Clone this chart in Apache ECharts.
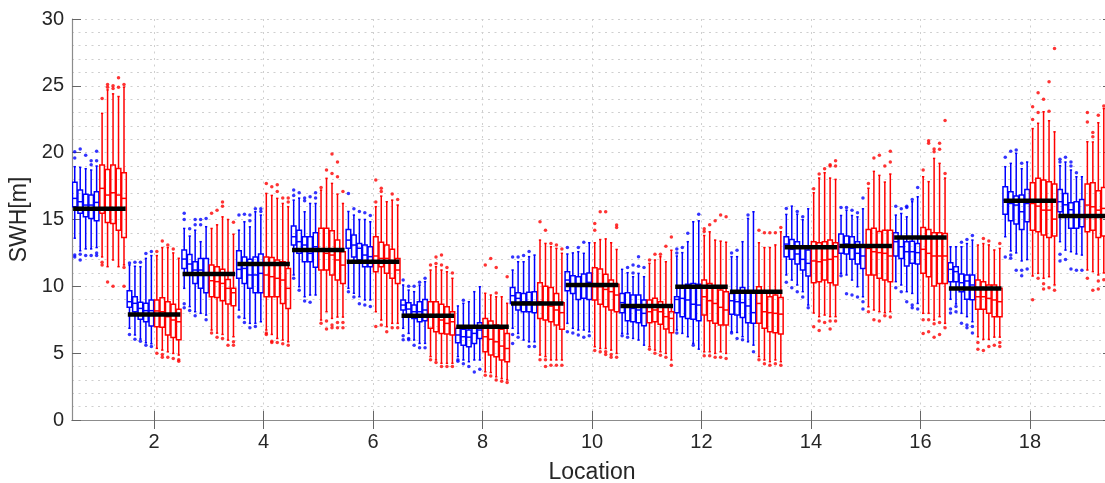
<!DOCTYPE html>
<html><head><meta charset="utf-8">
<script src="https://cdn.jsdelivr.net/npm/echarts@6/dist/echarts.min.js"></script>
<style>html,body{margin:0;padding:0;background:#fff}#c{width:1105px;height:483px}</style>
</head><body><div id="c"></div>
<script>
const locations = [1,2,3,4,5,6,7,8,9,10,11,12,13,14,15,16,17,18,19];
const xTickLabels = [2,4,6,8,10,12,14,16,18];
const yTickLabels = [0,5,10,15,20,25,30];
const observed = [15.8,7.9,10.92,11.67,12.71,11.84,7.8,6.98,8.72,10.1,8.53,9.97,9.6,12.92,13.01,13.66,9.83,16.4,15.26];

// [low whisker, q1, median, q3, high whisker], 5 boxes per location
const blueBoxes = [
 [[13.6,15.96,16.58,17.78,18.95],[12.66,15.46,16.33,17.2,18.9],[12.8,15.2,16.08,16.88,18.8],[12.8,15.08,16.08,16.83,18.7],[12.9,14.9,16.28,17.08,19.0]],
 [[6.86,8.43,8.85,9.67,11.6],[6.36,8.1,8.73,9.22,11.5],[6.05,7.53,8.35,8.8,11.47],[5.78,7.35,8.18,8.73,12.09],[5.7,7.03,8.18,8.98,12.3]],
 [[9.85,11.34,12.04,12.71,14.33],[8.48,10.97,11.67,12.39,13.76],[8.1,10.22,11.22,11.84,14.2],[7.98,9.85,11.22,12.09,13.34],[7.85,9.52,10.97,12.09,14.46]],
 [[8.23,10.6,11.27,12.66,14.2],[7.6,10.22,11.34,12.2,14.83],[7.23,9.85,10.85,12.02,14.45],[7.23,9.52,10.85,12.2,15.58],[7.35,9.52,10.97,12.42,15.33]],
 [[10.85,13.09,13.71,14.51,16.45],[9.97,12.47,13.34,14.2,16.6],[9.22,11.84,13.09,13.71,15.58],[9.35,11.84,12.47,13.71,16.2],[9.35,11.42,12.96,14.01,16.2]],
 [[9.85,12.85,13.46,14.26,15.6],[9.48,12.2,13.09,13.84,15.33],[9.22,11.97,12.85,13.21,15.0],[8.98,11.47,12.34,13.09,15.0],[8.98,11.47,12.22,12.96,14.83]],
 [[6.86,8.23,8.6,8.98,10.1],[6.48,7.9,8.3,8.77,9.72],[5.98,7.6,8.1,8.6,9.6],[5.73,7.35,8.1,8.85,10.1],[5.73,7.42,8.23,9.02,10.35]],
 [[4.74,5.78,6.36,6.86,8.53],[4.49,5.6,6.23,6.78,8.73],[4.36,5.48,6.2,6.73,8.85],[4.49,5.73,6.48,6.93,9.6],[4.49,6.1,6.73,7.28,9.97]],
 [[6.86,8.72,9.3,9.92,11.22],[6.48,8.23,9.1,9.52,11.84],[5.98,8.1,8.85,9.47,11.84],[5.85,8.1,8.85,9.55,12.22],[5.85,8.03,8.78,9.6,12.34]],
 [[7.23,9.67,10.47,11.09,12.42],[6.86,9.47,10.15,10.8,12.5],[6.73,9.02,10.0,10.72,12.59],[6.73,9.1,10.1,10.92,12.47],[6.6,9.02,10.3,11.0,13.26]],
 [[6.48,8.03,8.78,9.47,11.27],[6.43,7.42,8.6,9.52,11.02],[6.1,7.35,8.35,9.35,10.72],[5.98,7.28,8.23,9.35,10.97],[5.6,7.05,7.98,8.98,10.72]],
 [[6.73,8.03,9.02,9.22,12.27],[6.48,7.73,9.1,9.97,12.52],[6.23,7.6,8.98,10.15,13.34],[5.73,7.54,8.66,10.22,14.83],[5.3,7.42,8.6,10.15,14.9]],
 [[6.6,7.92,8.92,9.47,12.22],[6.55,7.85,8.85,9.67,12.22],[6.23,7.66,8.78,9.92,13.34],[5.85,7.28,8.53,9.55,15.08],[5.6,7.23,8.03,9.52,15.58]],
 [[10.85,12.22,13.16,13.71,15.38],[10.47,12.02,12.77,13.51,16.0],[10.1,11.67,12.42,13.34,15.4],[9.6,11.22,12.02,12.84,14.98],[8.6,10.77,11.72,12.71,15.8]],
 [[10.97,12.47,12.96,13.91,15.3],[10.85,12.42,13.16,13.76,15.7],[10.47,12.02,12.84,13.71,15.3],[9.97,11.67,12.47,13.34,15.2],[9.22,11.34,12.27,12.96,15.8]],
 [[10.35,12.27,13.34,14.0,15.33],[10.1,12.09,12.96,13.71,15.45],[9.6,11.52,12.59,13.34,15.2],[9.47,11.72,12.59,13.38,16.33],[8.72,11.67,12.52,13.21,16.7]],
 [[9.03,10.35,11.27,11.77,12.96],[8.68,10.35,11.1,11.47,12.96],[7.98,9.6,10.27,10.92,12.96],[7.73,9.03,10.4,10.85,13.2],[7.35,9.0,10.1,10.85,13.46]],
 [[13.71,15.4,16.45,17.45,18.95],[12.65,14.9,16.2,17.08,19.2],[12.5,14.66,16.08,16.75,19.95],[11.9,14.26,15.58,16.83,18.8],[12.0,14.83,16.2,17.25,19.3]],
 [[13.34,15.58,16.33,17.25,19.03],[12.71,15.33,16.1,16.95,19.3],[12.59,14.34,15.73,16.25,18.7],[12.42,14.34,15.33,16.33,18.2],[12.34,14.46,15.2,16.5,18.2]]
];
const redBoxes = [
 [[12.2,15.46,17.33,19.07,22.94],[11.47,14.78,16.83,18.74,24.7],[11.97,14.7,17.0,19.07,24.4],[11.47,14.2,16.83,18.82,24.2],[11.6,13.66,16.58,18.5,24.9]],
 [[5.36,6.98,8.16,8.98,12.3],[5.23,6.93,8.1,9.15,12.9],[5.1,6.36,7.73,8.85,12.9],[4.98,6.18,7.48,8.66,12.5],[4.86,6.0,7.35,8.28,12.1]],
 [[6.73,9.22,10.42,11.59,14.33],[6.5,9.17,10.35,11.47,14.6],[6.4,8.92,10.22,11.27,15.2],[5.98,8.68,9.85,10.52,15.0],[6.23,8.55,9.52,9.85,13.9]],
 [[6.73,9.22,10.85,12.2,16.95],[6.4,9.22,10.72,12.15,16.8],[6.1,9.22,10.6,11.97,16.58],[5.98,8.72,10.47,11.84,16.2],[5.85,8.35,9.85,11.34,15.96]],
 [[7.48,11.22,12.71,14.34,17.2],[8.1,11.22,12.47,14.34,18.08],[7.6,10.85,12.34,14.16,17.7],[7.7,10.47,11.97,13.46,16.9],[7.7,10.22,11.59,12.59,16.2]],
 [[8.1,11.09,12.27,13.71,15.96],[7.48,11.47,12.09,13.29,16.75],[6.98,10.97,12.09,13.09,16.33],[7.23,10.6,11.84,12.77,16.45],[7.23,10.22,11.22,12.09,16.08]],
 [[4.74,6.86,7.85,8.85,11.22],[4.49,6.6,7.73,8.85,11.47],[4.24,6.48,7.48,8.66,11.22],[4.24,6.43,7.23,8.48,11.09],[4.24,6.36,7.35,8.1,10.6]],
 [[3.6,5.1,6.23,7.6,9.48],[3.55,4.86,6.04,7.4,9.35],[3.23,4.74,5.85,7.1,9.22],[3.1,4.49,5.53,6.78,9.22],[3.0,4.36,5.35,6.48,8.73]],
 [[4.86,7.6,8.85,10.27,13.46],[4.74,7.48,8.72,10.0,13.21],[4.49,7.35,8.52,9.92,12.96],[4.49,7.1,8.23,9.47,12.84],[4.49,6.78,8.03,8.78,12.47]],
 [[5.48,8.98,9.97,11.39,13.26],[5.35,8.66,9.97,11.3,13.5],[5.35,8.48,9.77,10.9,13.55],[5.23,8.23,9.6,10.47,13.26],[4.98,8.1,9.35,10.15,12.76]],
 [[5.48,7.28,8.1,8.98,11.72],[5.23,7.35,8.23,9.1,11.97],[5.1,7.17,8.1,8.85,12.22],[4.98,6.8,7.73,8.48,11.84],[4.49,6.52,7.6,8.1,12.7]],
 [[5.1,7.85,9.22,10.47,13.8],[5.1,7.42,8.92,10.22,14.08],[4.98,7.23,8.72,9.97,13.46],[5.1,7.1,8.43,9.72,13.38],[4.98,7.1,8.23,9.6,13.3]],
 [[4.74,7.23,8.72,9.97,13.26],[4.49,6.86,8.1,9.67,12.9],[4.36,6.6,8.03,9.22,12.9],[4.49,6.52,7.98,9.35,13.1],[4.36,6.43,7.92,9.17,14.08]],
 [[8.0,10.27,11.9,13.34,17.0],[7.73,10.35,11.84,13.26,18.1],[7.85,10.47,11.97,13.34,18.5],[7.73,10.27,12.02,13.46,18.1],[7.73,10.1,12.22,13.26,18.0]],
 [[8.47,10.85,12.84,14.26,17.34],[8.23,10.85,12.59,14.34,18.6],[8.1,10.6,12.52,14.1,18.3],[8.03,10.47,12.47,14.2,17.8],[8.1,10.35,12.27,14.2,18.4]],
 [[7.98,10.97,12.77,14.41,18.2],[7.98,10.72,12.47,14.26,17.83],[7.48,10.02,12.27,14.0,19.57],[7.73,10.22,12.27,14.0,19.2],[7.23,10.22,12.27,13.96,18.1]],
 [[6.23,8.28,9.22,10.47,13.09],[6.03,8.28,9.22,10.35,13.2],[6.03,7.98,9.1,10.1,13.1],[6.2,7.73,8.98,10.1,12.72],[6.2,7.73,8.85,9.85,12.84]],
 [[10.77,14.2,16.2,17.75,21.8],[10.97,14.08,16.0,18.08,22.2],[10.6,13.84,15.7,17.95,23.06],[10.72,13.66,15.7,17.82,22.39],[10.1,13.76,15.03,17.65,21.56]],
 [[11.22,14.08,16.08,17.65,20.82],[11.1,14.2,15.95,17.75,20.8],[10.85,13.66,15.7,17.15,22.24],[11.0,13.76,15.83,17.4,23.3],[10.5,13.5,15.6,17.4,22.5]]
];
const blueOutliers = [
 [[20.07,19.6,12.35,12.2],[20.27,11.97,12.4],[19.8,12.3],[19.4,19.1,12.3],[20.1,19.4,12.3,12.5]],
 [[11.75,6.4],[11.8,6.05],[11.8,5.9],[12.45,5.6],[12.6,5.5]],
 [[15.46,15.0,8.7,8.4],[14.3,8.2],[15.0,14.6,7.8],[15.0,14.6],[15.08,7.5]],
 [[15.33,7.7],[15.4,7.3],[15.33,14.9,6.9],[15.8,7.0],[15.8,15.6]],
 [[17.2,16.8,10.6],[17.0,9.7],[16.6,16.4,8.9],[16.7,8.8],[17.0,16.6]],
 [[16.95,9.6],[15.8,9.2],[15.6,8.7],[15.5,8.6],[15.3,8.5]],
 [[10.47,6.3,6.0],[10.0,6.1,6.0],[10.0,5.6],[10.3,5.4],[10.6,5.4]],
 [[4.5,4.4],[8.95,4.2],[4.0],[3.6],[3.8]],
 [[12.2,6.4,5.73],[12.2,6.2],[12.3],[12.6,5.5],[5.5]],
 [[12.9,6.6],[6.5],[12.9,6.35],[13.3,6.2],[6.3]],
 [[6.3],[11.4,6.2],[11.6,11.0],[12.22,11.5],[11.4]],
 [[12.8,12.5,6.5],[12.9],[13.97],[5.6],[15.4]],
 [[12.5,6.5],[12.7,6.1],[6.0],[15.33],[5.1]],
 [[15.83,10.3],[9.9],[15.6,9.6],[15.2,9.2],[8.4]],
 [[15.9,10.8],[15.9,9.45],[15.7,9.35],[15.5,9.2],[16.6,8.85,8.3]],
 [[16.0,9.9],[15.8,9.6],[16.0,15.9,8.85],[16.5,8.6,8.4],[17.4,8.3]],
 [[8.3,8.0],[8.5,8.1],[13.3,7.23],[13.5,7.1,6.9],[13.8,7.0,6.5]],
 [[19.65,12.2],[20.1,12.35,12.1],[20.2,11.2],[19.2,11.2,10.8],[11.3]],
 [[19.5,19.3,12.4,11.9],[19.65,12.0],[19.3,19.0,11.3],[18.5,11.2],[11.2]]
];
const redOutliers = [
 [[24.06,11.8,11.6],[25.1,24.9,10.33],[25.0,24.8,10.0],[25.6,24.9],[25.1,11.4,10.0]],
 [[12.6,5.0],[13.4,4.9,4.7],[13.1,4.7],[12.8,4.6],[4.5,4.4]],
 [[15.46,6.5],[15.7,6.2],[16.3,16.0,6.1],[5.6],[14.8,5.85,5.6]],
 [[17.7,6.5,6.4],[17.45,5.9,5.8],[17.1,17.6,5.8],[16.6,5.7],[16.6,16.3,5.6]],
 [[17.4,7.23],[18.7,7.4,6.8],[19.9,18.45,7.1,6.9],[19.3,18.2,7.3,6.9],[17.1,7.3,6.9]],
 [[17.95,16.3,7.0],[17.33,17.1,7.1],[6.6],[16.9,6.9],[16.5,6.9]],
 [[11.6,4.5],[12.2,11.7,4.3],[12.34,11.6,4.0],[11.4,4.0],[11.0,4.0]],
 [[11.59,3.35],[12.09,3.3],[11.4,9.5,3.0],[2.9],[10.72,2.8]],
 [[14.83,4.5],[14.2,4.5,4.0],[13.2,4.1],[13.1,4.1],[12.8,4.1]],
 [[14.7,14.2,5.2],[15.58,5.1],[15.58,5.1,4.9],[4.9,4.7],[14.58,14.4,4.7]],
 [[11.97,5.3],[12.4,5.0],[12.4,4.85],[13.0,4.7],[13.7,4.1]],
 [[14.3,14.1,4.8],[14.6,4.8],[14.9,4.7],[15.33,4.7],[15.2,4.6]],
 [[14.2,4.5],[14.0,4.2],[14.0,4.1],[14.0,4.2],[14.4,4.1]],
 [[17.3,6.98],[18.4,7.4,6.7],[18.8,7.3],[19.1,19.0,7.4,6.8],[19.4,19.0,7.4]],
 [[17.7,8.1],[19.6,7.5],[19.8,7.4],[19.0,7.8],[20.1,19.3,7.7]],
 [[18.7,7.5,6.48],[20.9,20.7,7.5,6.6],[20.27,20.07,7.2,6.2],[20.7,20.25,7.3,6.4],[22.4,18.45,6.9]],
 [[5.8,5.3],[13.58,5.2],[13.4,5.5],[5.6],[13.2,5.8,5.5]],
 [[23.43,22.49,9.0],[24.48,23.0,10.6],[24.0,10.2,9.8],[25.3,23.1,9.9],[27.8,9.7]],
 [[23.0,22.3,10.6],[21.5,21.2,9.7],[22.8,10.4,9.8],[23.5,10.5],[23.4,9.9]]
];

const blueOffsets = [-0.45,-0.35,-0.25,-0.15,-0.05];
const redOffsets = [0.05,0.15,0.25,0.35,0.45];

function buildBoxData(boxes, offsets){
  const out = [];
  locations.forEach((loc,i)=>{ boxes[i].forEach((b,k)=>{ out.push([loc+offsets[k]].concat(b)); }); });
  return out;
}
function buildOutlierData(outl, offsets){
  const out = [];
  locations.forEach((loc,i)=>{ outl[i].forEach((arr,k)=>{ arr.forEach(v=>out.push([loc+offsets[k], v])); }); });
  return out;
}

function boxRenderer(color){
  return function(params, api){
    const x = api.value(0);
    const hw = 0.042;
    const xl = api.coord([x-hw,0])[0], xr = api.coord([x+hw,0])[0], xc = api.coord([x,0])[0];
    const cw = (xr-xl)*0.25;
    const yLow = api.coord([x,api.value(1)])[1];
    const yQ1 = api.coord([x,api.value(2)])[1];
    const yMed = api.coord([x,api.value(3)])[1];
    const yQ3 = api.coord([x,api.value(4)])[1];
    const yHigh = api.coord([x,api.value(5)])[1];
    const st = {stroke: color, lineWidth: 1.5, fill: 'none'};
    return {type:'group', children:[
      {type:'line', shape:{x1:xc,y1:yHigh,x2:xc,y2:yQ3}, style:st},
      {type:'line', shape:{x1:xc,y1:yQ1,x2:xc,y2:yLow}, style:st},
      {type:'line', shape:{x1:xc-cw,y1:yHigh,x2:xc+cw,y2:yHigh}, style:st},
      {type:'line', shape:{x1:xc-cw,y1:yLow,x2:xc+cw,y2:yLow}, style:st},
      {type:'rect', shape:{x:xl,y:yQ3,width:xr-xl,height:yQ1-yQ3}, style:st},
      {type:'line', shape:{x1:xl,y1:yMed,x2:xr,y2:yMed}, style:st}
    ]};
  };
}
function obsRenderer(params, api){
  const x = api.value(0), v = api.value(1);
  const p1 = api.coord([x-0.48, v]), p2 = api.coord([x+0.48, v]);
  return {type:'line', shape:{x1:p1[0],y1:p1[1],x2:p2[0],y2:p2[1]}, style:{stroke:'#000', lineWidth:4.5}};
}

const FONT = "'Liberation Sans', Arial, Helvetica, sans-serif";
const gridDash = {color:'#cfcfcf', width:1, type:[2,4.5]};
const chart = echarts.init(document.getElementById('c'), null, {renderer:'canvas'});
chart.setOption({
  animation:false,
  backgroundColor:'#fff',
  grid:{left:72, top:19, width:1040, height:401, outerBoundsMode:'none', containLabel:false},
  xAxis:[
    {type:'value', min:0.5, max:19.5, position:'bottom',
     axisLine:{show:true, lineStyle:{color:'#8c8c8c', width:1.2}},
     axisTick:{show:true, inside:true, length:9, customValues:xTickLabels, lineStyle:{color:'#666', width:1}},
     axisLabel:{customValues:xTickLabels, fontSize:20, color:'#262626', margin:12, fontFamily:FONT},
     splitLine:{show:false},
     name:'Location', nameLocation:'middle', nameGap:41,
     nameTextStyle:{fontSize:23, color:'#262626', fontFamily:FONT}},
    {type:'value', min:0.5, max:19.5, interval:0.5, position:'top',
     axisLine:{show:true, lineStyle:{color:'#8c8c8c', width:1.2}},
     axisTick:{show:true, inside:true, length:9, customValues:xTickLabels, lineStyle:{color:'#666', width:1}},
     axisLabel:{show:false},
     splitLine:{show:true, lineStyle:gridDash}}
  ],
  yAxis:[
    {type:'value', min:0, max:30, interval:5, position:'left',
     axisLine:{show:true, lineStyle:{color:'#8c8c8c', width:1.2}},
     axisTick:{show:true, inside:true, length:9, lineStyle:{color:'#666', width:1}},
     axisLabel:{fontSize:20, color:'#262626', margin:8, fontFamily:FONT,
       formatter:function(v){ return yTickLabels.indexOf(v)>=0 ? String(v) : ''; }},
     splitLine:{show:true, lineStyle:gridDash},
     minorTick:{show:false, splitNumber:5},
     minorSplitLine:{show:true, lineStyle:gridDash},
     name:'SWH[m]', nameLocation:'middle', nameGap:35, nameRotate:90,
     nameTextStyle:{fontSize:23, color:'#262626', fontFamily:FONT}},
    {type:'value', min:0, max:30, interval:5, position:'right',
     axisLine:{show:true, lineStyle:{color:'#8c8c8c', width:1.2}},
     axisTick:{show:true, inside:true, length:9, lineStyle:{color:'#666', width:1}},
     axisLabel:{show:false}, splitLine:{show:false}}
  ],
  series:[
    {type:'custom', name:'blue', renderItem:boxRenderer('#0000ff'), data:buildBoxData(blueBoxes, blueOffsets),
     encode:{x:0, y:[1,2,3,4,5]}, clip:true, z:3},
    {type:'custom', name:'red', renderItem:boxRenderer('#ff0000'), data:buildBoxData(redBoxes, redOffsets),
     encode:{x:0, y:[1,2,3,4,5]}, clip:true, z:3},
    {type:'scatter', data:buildOutlierData(blueOutliers, blueOffsets), symbol:'circle', symbolSize:3.5,
     itemStyle:{color:'#0000ff'}, z:4, silent:true},
    {type:'scatter', data:buildOutlierData(redOutliers, redOffsets), symbol:'circle', symbolSize:3.5,
     itemStyle:{color:'#ff0000'}, z:4, silent:true},
    {type:'custom', name:'observed', renderItem:obsRenderer, data:locations.map((l,i)=>[l, observed[i]]),
     encode:{x:0, y:1}, clip:true, z:5}
  ]
});
</script></body></html>
